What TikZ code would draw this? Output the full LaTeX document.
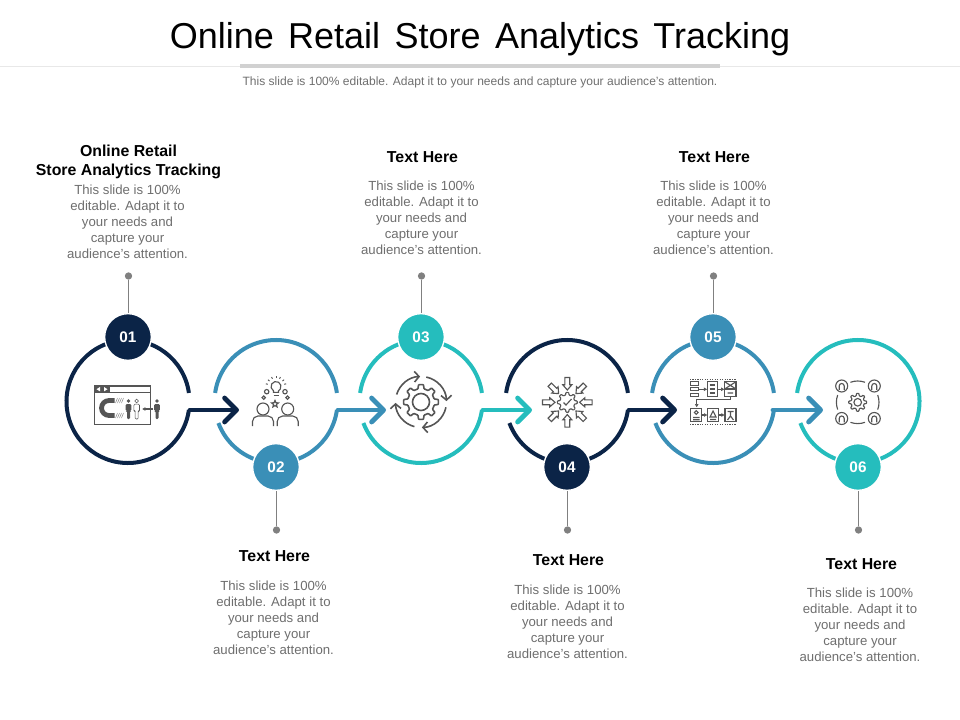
\documentclass[tikz,border=0pt]{standalone}
\usepackage{fontspec}
\setmainfont{Liberation Sans}
\usetikzlibrary{arrows.meta}

\definecolor{navy}{HTML}{0B2447}
\definecolor{steel}{HTML}{3A8FB7}
\definecolor{aqua}{HTML}{25BDBD}
\definecolor{iconink}{HTML}{555555}
\definecolor{bodyink}{HTML}{6E6E6E}

\tikzset{
  every node/.style={inner sep=0pt,align=center},
  ring/.style={line width=3pt},
  flow/.style={line width=3.6pt,line cap=round,
    -{Straight Barb[length=9pt,width=18pt,round]}},
  numdot/.style={circle,minimum size=35pt,draw=white,line width=1pt,text=white,
    font=\fontsize{11.5}{13}\selectfont\bfseries},
  pindot/.style={circle,fill=gray,minimum size=5.5pt},
  pinline/.style={draw=gray,line width=.6pt},
  head/.style={font=\fontsize{11.9}{14.3}\selectfont\bfseries},
  body/.style={text=bodyink,font=\fontsize{9.9}{12}\selectfont},
  icon/.style={draw=iconink,line width=.85pt},
  tiny/.style={icon,-{Latex[length=2.6pt,width=3pt]}},
  man/.pic={
    \path[pic actions] (0,0) circle (1.9);
    \path[pic actions,rounded corners=.8pt] (-2.8,3.2) -- (2.8,3.2) -- (2.8,10)
      -- (1.5,10) -- (1.5,18) -- (-1.5,18) -- (-1.5,10) -- (-2.8,10) -- cycle;
  },
  badge/.pic={
    \draw[icon] (0,0) circle (6);
    \draw[icon] (-2.5,3.8) -- (-2.5,0) arc[start angle=180,end angle=360,radius=2.5] -- (2.5,3.8);
  },
  mate/.pic={
    \draw[icon] (0,0) circle (6);
    \draw[icon] (-10.5,17) -- (-10.5,12.5) arc[start angle=180,end angle=270,radius=5.5]
      -- (5,7) arc[start angle=270,end angle=360,radius=5.5] -- (10.5,17);
  },
  spot/.pic={\draw[icon] (0,0) circle (2.2);},
}

\newcommand{\slidetext}{This slide is 100\%\\editable.  Adapt it to\\your needs and\\capture your\\audience’s attention.}
\newcommand{\gearicon}[3]{%
  \draw[icon,shift={#1},rounded corners=.5pt] (22.5:#3)
    \foreach \a in {45,90,...,360}{
      -- (\a-13:#3) -- (\a-8:#2) -- (\a+8:#2) -- (\a+13:#3)
    } -- cycle;
}

\begin{document}
\begin{tikzpicture}[x=.75pt,y=-.75pt]
  \useasboundingbox (0,0) rectangle (960,720);

  % title
  \draw[draw=black!9,line width=.8pt] (0,66.5) -- (960,66.5);
  \draw[draw=black!18,line width=3pt] (240,66) -- (720,66);
  \node (title) at (480,39) {\fontsize{27}{30}\selectfont\spaceskip=.40em Online Retail Store Analytics Tracking};
  \node (subtitle) at (480,82) {\color{bodyink}\fontsize{9.03}{11}\selectfont This slide is 100\% editable. Adapt it to your needs and capture your audience’s attention.};

  % rings
  \coordinate (c1) at (128,401.5);
  \coordinate (c2) at (276,401.5);
  \coordinate (c3) at (421,401.5);
  \coordinate (c4) at (567,401.5);
  \coordinate (c5) at (713,401.5);
  \coordinate (c6) at (858,401.5);

  \draw[ring,navy] (c1) ++(-8:61.5) arc[start angle=-8,end angle=-352,radius=61.5];
  \foreach \i/\col in {2/steel,3/aqua,4/navy,5/steel}{
    \draw[ring,\col] (c\i) ++(-8:61.5) arc[start angle=-8,end angle=-172,radius=61.5];
    \draw[ring,\col] (c\i) ++(8:61.5) arc[start angle=8,end angle=159.5,radius=61.5];
  }
  \draw[ring,aqua] (c6) ++(-172:61.5) arc[start angle=-172,end angle=159.5,radius=61.5];

  % flow arrows
  \coordinate (out1) at (190,410); \coordinate (in2) at (239,410);
  \coordinate (out2) at (338,410); \coordinate (in3) at (386,410);
  \coordinate (out3) at (483,410); \coordinate (in4) at (532,410);
  \coordinate (out4) at (629,410); \coordinate (in5) at (677,410);
  \coordinate (out5) at (773,410); \coordinate (in6) at (823,410);
  \draw[flow,navy]  (out1) -- (in2);
  \draw[flow,steel] (out2) -- (in3);
  \draw[flow,aqua]  (out3) -- (in4);
  \draw[flow,navy]  (out4) -- (in5);
  \draw[flow,steel] (out5) -- (in6);

  % numbers, pins
  \foreach \i/\x/\y/\py/\col in {1/128/337/276/navy,2/276/467/530/steel,3/421/337/276/aqua,
                                 4/567/467/530/navy,5/713/337/276/steel,6/858/467/530/aqua}{
    \node[pindot] (pin\i) at (\x+.5,\py) {};
    \draw[pinline] (pin\i) -- (\x+.5,\y);
    \node[numdot,fill=\col] (num\i) at (\x,\y) {0\i};
  }

  % texts
  \node[head] (head1) at (128.5,162) {Online Retail\\Store Analytics Tracking};
  \node[head] (head2) at (274.5,556) {Text Here};
  \node[head] (head3) at (422.5,157) {Text Here};
  \node[head] (head4) at (568.5,560) {Text Here};
  \node[head] (head5) at (714.5,157) {Text Here};
  \node[head] (head6) at (861.5,564) {Text Here};
  \node[body] (body1) at (127.5,222) {\slidetext};
  \node[body] (body2) at (273.5,618) {\slidetext};
  \node[body] (body3) at (421.5,218) {\slidetext};
  \node[body] (body4) at (567.5,622) {\slidetext};
  \node[body] (body5) at (713.5,218) {\slidetext};
  \node[body] (body6) at (860,625) {\slidetext};

  % icon 1
  \draw[icon,line width=1pt] (94.5,386) rectangle (150.5,424.5);
  \draw[icon] (94.5,392.5) -- (150.5,392.5);
  \fill[iconink] (94.5,386) rectangle (110,392.5);
  \fill[white] (96.5,389.2) -- (100,387) -- (100,391.4) -- cycle;
  \fill[white] (107.5,389.2) -- (104,387) -- (104,391.4) -- cycle;
  \draw[iconink,line width=3.6pt] (114.5,400.5) -- (109,400.5)
    arc[start angle=-90,end angle=-270,radius=7.5] -- (114.5,415.5);
  \foreach \h in {398,413}{
    \foreach \k in {0,2,4,6}{
      \draw[iconink!70,line width=.4pt] (115.5+\k,\h+5) -- (117.5+\k,\h);
    }
  }
  \path pic[fill=iconink] at (128.5,401) {man};
  \path pic[draw=iconink,line width=.4pt] at (136.7,401) {man};
  \path pic[fill=iconink] at (157,401) {man};
  \draw[tiny] (153,409) -- (142,409);

  % icon 2
  \draw[icon] (276,386.5) ++(120:5) arc[start angle=120,end angle=420,radius=5]
    -- ++(0,1.5) -- ++(-5,0) -- cycle;
  \draw[icon] (273.5,395.5) -- (278.5,395.5);
  \foreach \a in {-165,-140,...,-15}{
    \draw[iconink,line width=.7pt] (276,386.5) ++(\a:8.5) -- ++(\a:2);
  }
  \path pic at (266.7,391.7) {spot} pic at (285,391.7) {spot};
  \draw[icon] (263.7,397.7) circle (1.7) (287.5,397.7) circle (1.7);
  \draw[icon,shift={(275,404)}] (-90:3.6)
    \foreach \a/\r in {-54/1.6,-18/3.6,18/1.6,54/3.6,90/1.6,126/3.6,162/1.6,198/3.6,234/1.6}{
      -- (\a:\r)
    } -- cycle;
  \path pic at (263,409) {mate} pic at (287.7,409) {mate};

  % icon 3
  \begin{scope}[icon/.append style={line width=1.2pt}]
    \gearicon{(421,402)}{17.5}{13.5}
    \draw[icon] (421,402) circle (8.5);
    \foreach \s/\e in {197/268,282/358,372/448,465/538}{
      \draw[icon,-{Straight Barb[length=3.5pt,width=8pt]}] (421,402) ++(\s:25.5)
        arc[start angle=\s,end angle=\e,radius=25.5];
    }
  \end{scope}

  % icon 4
  \gearicon{(567.3,402.3)}{10}{7.5}
  \draw[icon] (563.5,402.5) -- (566,405) -- (571.5,399);
  \foreach \a in {0,45,...,315}{
    \draw[icon,shift={(567.3,402.3)},rotate=\a] (12.3,0) -- (17.5,-4.5) -- (17.5,-2.4)
      -- (24.8,-2.4) -- (24.8,2.4) -- (17.5,2.4) -- (17.5,4.5) -- cycle;
  }

  % icon 5
  \draw[icon,densely dotted] (690,379.5) -- (736,379.5) (690,424.5) -- (736,424.5);
  \foreach \h in {381.8,387.4,393.3}{
    \draw[icon] (690.8,\h) rectangle (698.3,\h+3.4);
  }
  \draw[icon] (707.7,381.7) rectangle (717.3,396.7);
  \draw[icon] (709.7,385) -- (715.3,385) (709.7,389) -- (715.3,389) (709.7,393) -- (715.3,393);
  \draw[icon] (724.7,381.7) rectangle (736,396.7) (724.7,389) -- (736,389);
  \draw[icon] (724.7,381.7) -- (736,389) (736,381.7) -- (724.7,389) (727.5,393) -- (733,393);
  \draw[tiny] (699.3,389.3) -- (707.3,389.3);
  \draw[tiny] (717.3,389.3) -- (724.5,389.3);
  \draw[tiny] (730.7,397) -- (730.7,399.5) -- (696.7,399.5) -- (696.7,407.5);
  \draw[icon] (690.7,408.3) rectangle (701.7,421.7);
  \draw[icon] (696.2,412.5) circle (1.9) (693,417.5) -- (699.5,417.5) (693,419.7) -- (699.5,419.7);
  \draw[icon] (707.7,408.3) rectangle (718.3,421.7);
  \draw[icon] (713,411) -- (716,417) -- (710,417) -- cycle (710,419.5) -- (716,419.5);
  \draw[icon] (725,408.3) rectangle (736,421.7);
  \draw[icon] (727.5,411.5) -- (733.5,411.5) (730.5,411.5) -- (730.5,416) (727.5,420) -- (730.5,416) -- (733.5,420);
  \draw[tiny] (701.7,415) -- (707.5,415);
  \draw[tiny] (718.3,415) -- (724.8,415);

  % icon 6
  \gearicon{(857.7,402.3)}{9}{6.6}
  \draw[icon] (857.7,402.3) circle (3.8);
  \path pic at (841.7,386) {badge} pic at (874.3,386) {badge}
        pic at (841.7,418.5) {badge} pic at (874.3,418.5) {badge};
  \foreach \a in {0,90,180,270}{
    \draw[icon] (857.7,402.3) ++(\a-20:21.3) arc[start angle=\a-20,end angle=\a+20,radius=21.3];
  }
\end{tikzpicture}
\end{document}
